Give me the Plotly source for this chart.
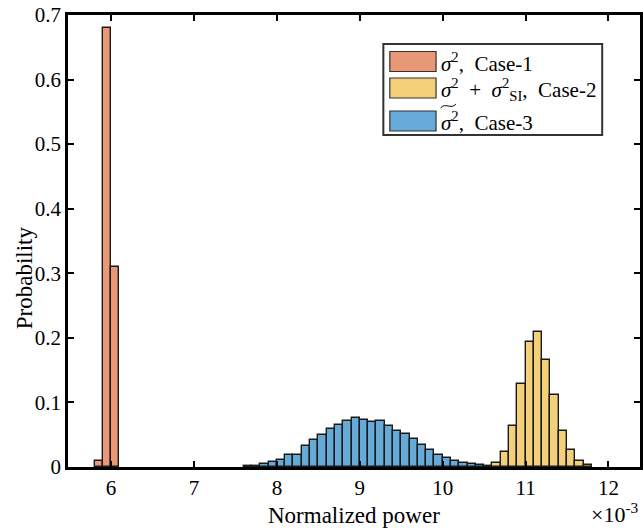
import plotly.graph_objects as go

# ---------------- data (units of 1e-3) ----------------
bin_width = 0.1
case1_centers = [5.85, 5.95, 6.05]
case1_prob = [0.010, 0.680, 0.310]

case2_centers = [10.65, 10.75, 10.85, 10.95, 11.05, 11.15, 11.25, 11.35, 11.45, 11.55, 11.65, 11.75]
case2_prob = [0.0057, 0.023, 0.063, 0.129, 0.193, 0.209, 0.165, 0.1115, 0.056, 0.026, 0.010, 0.003]

case3_centers = [7.65, 7.75, 7.85, 7.95, 8.05, 8.15, 8.25, 8.35, 8.45, 8.55,
                 8.65, 8.75, 8.85, 8.95, 9.05, 9.15, 9.25, 9.35, 9.45, 9.55,
                 9.65, 9.75, 9.85, 9.95, 10.05, 10.15, 10.25, 10.35, 10.45, 10.55]
case3_prob = [0.002, 0.002, 0.0046, 0.0075, 0.011, 0.018, 0.0193, 0.0318, 0.0413, 0.0496,
              0.0589, 0.0645, 0.0707, 0.0759, 0.0723, 0.0702, 0.0712, 0.0635, 0.0553, 0.0511,
              0.0429, 0.0336, 0.0263, 0.018, 0.0143, 0.009, 0.0068, 0.0046, 0.0036, 0.002]

x_ticks = [6, 7, 8, 9, 10, 11, 12]
y_ticks = [0, 0.1, 0.2, 0.3, 0.4, 0.5, 0.6, 0.7]
y_tick_text = ["0", "0.1", "0.2", "0.3", "0.4", "0.5", "0.6", "0.7"]

legend_labels = [
    "<i>σ</i><sup>2</sup>,\u2002Case-1",
    "<i>σ</i><sup>2</sup>\u2002+\u2002<i>σ</i><sup>2</sup><sub>SI</sub>,\u2002Case-2",
    "<i>σ</i><sup>2</sup>,\u2002Case-3",
]

# ---------------- styling ----------------
C_ORANGE = "#E89874"
C_YELLOW = "#F4D079"
C_BLUE = "#66AAD7"
EDGE = "#1a1a1a"
FONT = "Liberation Serif"

W, H = 643, 528
L, R, T, B = 68, 0, 15, 61
PW, PH = W - L - R, H - T - B
XMIN = 5.48
XMAX = XMIN + PW / 83.33


def px(xp):
    return (xp - L) / PW


def py(yp):
    return (H - B - yp) / PH


fig = go.Figure()
for centers, probs, col in [(case1_centers, case1_prob, C_ORANGE),
                            (case2_centers, case2_prob, C_YELLOW),
                            (case3_centers, case3_prob, C_BLUE)]:
    fig.add_trace(go.Bar(
        x=centers, y=probs, width=bin_width,
        marker=dict(color=col, line=dict(color=EDGE, width=1.4)),
        showlegend=False,
    ))

fig.update_layout(
    width=W, height=H,
    margin=dict(l=L, r=R, t=T, b=B, pad=0),
    plot_bgcolor="white", paper_bgcolor="white",
    barmode="overlay", bargap=0,
    font=dict(family=FONT, size=21, color="black"),
    showlegend=False,
)
fig.update_xaxes(
    range=[XMIN, XMAX], tickvals=x_ticks, ticktext=[str(v) for v in x_ticks],
    ticks="inside", ticklen=6, tickwidth=2, tickcolor="black",
    showline=True, linecolor="black", linewidth=2.5, mirror="ticks",
    showgrid=False, zeroline=False, tickfont=dict(size=21),
)
fig.update_yaxes(
    range=[0, 0.7], tickvals=y_ticks, ticktext=y_tick_text,
    ticks="inside", ticklen=6, tickwidth=2, tickcolor="black",
    showline=True, linecolor="black", linewidth=2.5, mirror="ticks",
    showgrid=False, zeroline=False, tickfont=dict(size=21),
)

annotations = [
    dict(text="Normalized power", x=px((L + W) / 2), y=py(515), xref="paper", yref="paper",
         xanchor="center", yanchor="middle", showarrow=False, font=dict(size=23)),
    dict(text="Probability", x=px(24), y=py(278), xref="paper", yref="paper",
         xanchor="center", yanchor="middle", textangle=-90, showarrow=False, font=dict(size=23)),
    dict(text="×10<sup>-3</sup>", x=px(644), y=py(513), xref="paper", yref="paper",
         xanchor="right", yanchor="middle", showarrow=False, font=dict(size=22)),
]

shapes = [
    dict(type="rect", xref="paper", yref="paper", x0=px(385), x1=px(605), y0=py(135), y1=py(44),
         line=dict(color="#333333", width=2), fillcolor="white", layer="above"),
]
row_y = [(51.5, 71.5), (78, 98), (111, 131)]
for (y0, y1), col, lab in zip(row_y, [C_ORANGE, C_YELLOW, C_BLUE], legend_labels):
    shapes.append(dict(type="rect", xref="paper", yref="paper", x0=px(391.5), x1=px(438),
                       y0=py(y1), y1=py(y0), line=dict(color="#333333", width=1.2),
                       fillcolor=col, layer="above"))
    annotations.append(dict(text=lab, x=px(441), y=py((y0 + y1) / 2 + 1), xref="paper", yref="paper",
                            xanchor="left", yanchor="middle", showarrow=False,
                            font=dict(size=21)))

# wide tilde over sigma^2 in the third legend entry
tx0, tx1, tyc = 442.5, 458, 106
path = "M {},{} C {},{} {},{} {},{}".format(
    px(tx0), py(tyc + 2), px(tx0 + 5), py(tyc - 4), px(tx1 - 5), py(tyc + 4), px(tx1), py(tyc - 2))
shapes.append(dict(type="path", xref="paper", yref="paper", path=path,
                   line=dict(color="black", width=1), layer="above"))

fig.update_layout(annotations=annotations, shapes=shapes)
fig.write_html("out.html")
